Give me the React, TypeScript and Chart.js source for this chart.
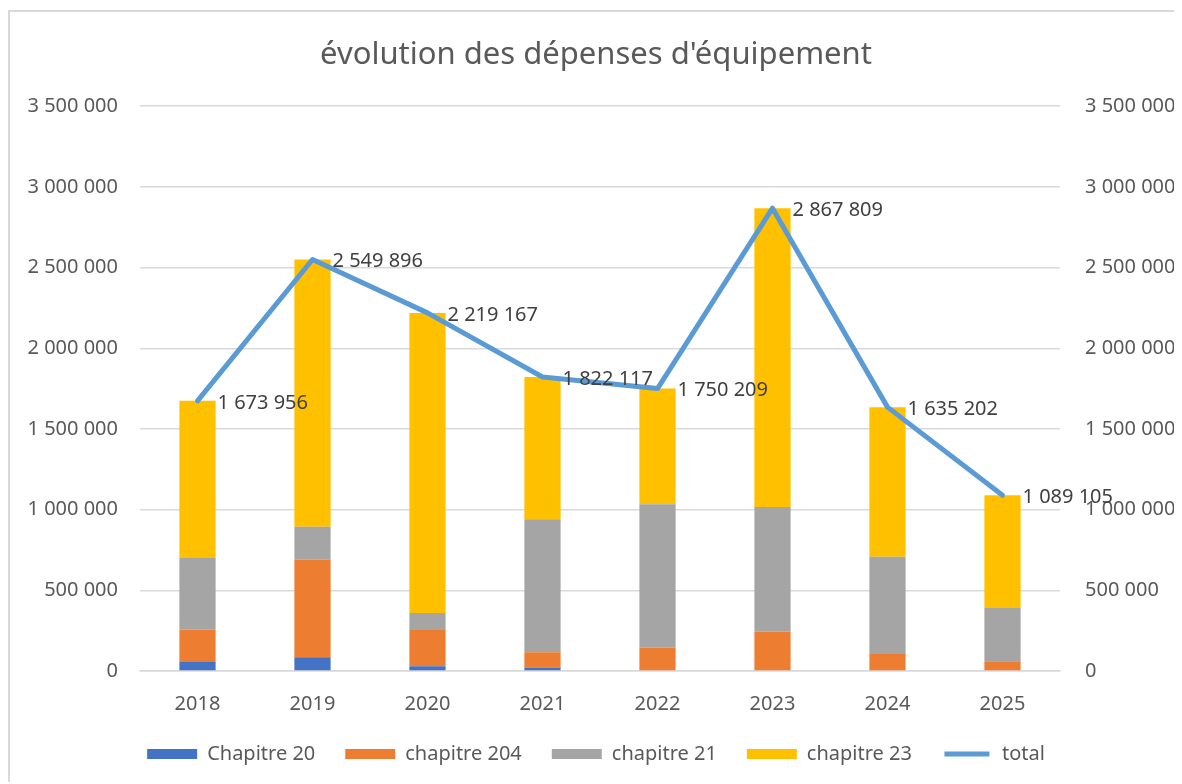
import React, { useEffect, useRef } from "react";
import { Chart, registerables } from "chart.js";

Chart.register(...registerables);

const years = ["2018", "2019", "2020", "2021", "2022", "2023", "2024", "2025"];
const chapitre20 = [56000, 85000, 30000, 22000, 0, 0, 0, 0];
const chapitre204 = [200000, 604000, 224000, 94000, 145000, 245000, 106000, 60000];
const chapitre21 = [445000, 205000, 106000, 825000, 888000, 771000, 602000, 331000];
const chapitre23 = [973000, 1656000, 1859000, 881000, 717000, 1852000, 927000, 698000];
const total = [1673956, 2549896, 2219167, 1822117, 1750209, 2867809, 1635202, 1089105];

const axisMin = 0;
const axisMax = 3500000;
const axisStep = 500000;

const seriesNames = ["Chapitre 20", "chapitre 204", "chapitre 21", "chapitre 23", "total"];
const seriesColors = ["#4472C4", "#ED7D31", "#A5A5A5", "#FFC000", "#5B9BD5"];

const fmt = (v: number) => Math.round(v).toString().replace(/\B(?=(\d{3})+(?!\d))/g, " ");

const FONT = '"Noto Sans", "Open Sans", sans-serif';

export default function App() {
  const ref = useRef<HTMLCanvasElement>(null);

  useEffect(() => {
    document.body.style.overflow = "hidden";
    const canvas = ref.current;
    if (!canvas) return;
    Chart.defaults.font.family = FONT;

    const labelPlugin = {
      id: "totalLabels",
      afterDatasetsDraw(chart: any) {
        const meta = chart.getDatasetMeta(4);
        const c = chart.ctx;
        c.save();
        c.font = `20px ${FONT}`;
        c.fillStyle = "#404040";
        c.textBaseline = "middle";
        c.textAlign = "left";
        meta.data.forEach((pt: any, i: number) => {
          c.fillText(fmt(total[i]), pt.x + 20, pt.y + 2);
        });
        c.restore();
      },
    };

    const barData = [chapitre20, chapitre204, chapitre21, chapitre23];

    const chart = new Chart(canvas, {
      type: "bar",
      data: {
        labels: years,
        datasets: [
          ...barData.map((d, i) => ({
            type: "bar" as const,
            label: seriesNames[i],
            data: d,
            backgroundColor: seriesColors[i],
            borderWidth: 0,
            yAxisID: "y",
            stack: "s",
            order: 1,
            categoryPercentage: 1,
            barPercentage: 0.315,
          })),
          {
            type: "line" as const,
            label: seriesNames[4],
            data: total,
            borderColor: seriesColors[4],
            backgroundColor: seriesColors[4],
            borderWidth: 5,
            pointRadius: 0,
            tension: 0,
            yAxisID: "y2",
            order: 0,
            borderCapStyle: "round",
            borderJoinStyle: "round",
          } as any,
        ],
      },
      options: {
        responsive: false,
        animation: false,
        layout: { padding: { left: 0, right: 0, top: 0, bottom: 8 } },
        plugins: {
          tooltip: { enabled: false },
          title: {
            display: true,
            text: "évolution des dépenses d'équipement",
            color: "#595959",
            font: { size: 31, weight: "normal", family: FONT },
            padding: { top: 25, bottom: 32 },
          },
          legend: {
            position: "bottom",
            labels: {
              color: "#595959",
              font: { size: 20, family: FONT },
              boxWidth: 50,
              boxHeight: 10,
              padding: 30,
              generateLabels: () =>
                seriesNames.map((name, i) =>
                  i < 4
                    ? {
                        text: name,
                        fillStyle: seriesColors[i],
                        strokeStyle: seriesColors[i],
                        lineWidth: 0,
                        datasetIndex: i,
                        hidden: false,
                        fontColor: "#595959",
                      }
                    : {
                        text: name,
                        fillStyle: seriesColors[i],
                        strokeStyle: "#ffffff",
                        lineWidth: 5,
                        datasetIndex: i,
                        hidden: false,
                        fontColor: "#595959",
                      }
                ),
            },
          },
        },
        scales: {
          x: {
            offset: true,
            grid: { display: false, drawTicks: false },
            border: { display: true, color: "#d9d9d9", width: 1.5 },
            ticks: { color: "#595959", font: { size: 20 }, padding: 21 },
            afterFit: (s: any) => {
              s.height = 43;
            },
          },
          y: {
            position: "left",
            stacked: true,
            min: axisMin,
            max: axisMax,
            grid: { color: "#d9d9d9", lineWidth: 1.5, drawTicks: false },
            border: { display: false },
            ticks: {
              stepSize: axisStep,
              color: "#595959",
              font: { size: 20 },
              padding: 22,
              callback: (v: any) => fmt(Number(v)),
            },
            afterFit: (s: any) => {
              s.width = 130;
            },
          },
          y2: {
            position: "right",
            stacked: false,
            min: axisMin,
            max: axisMax,
            grid: { display: false, drawTicks: false },
            border: { display: false },
            ticks: {
              stepSize: axisStep,
              color: "#595959",
              font: { size: 20 },
              padding: 25,
              callback: (v: any) => fmt(Number(v)),
            },
            afterFit: (s: any) => {
              s.width = 122;
            },
          },
        },
      } as any,
      plugins: [labelPlugin],
    });

    return () => chart.destroy();
  }, []);

  return (
    <div
      style={{
        marginTop: 2,
        borderTop: "2px solid #d9d9d9",
        borderLeft: "2px solid #d9d9d9",
        width: 1200,
        height: 770,
      }}
    >
      <canvas ref={ref} width={1172} height={770} style={{ display: "block" }} />
    </div>
  );
}
